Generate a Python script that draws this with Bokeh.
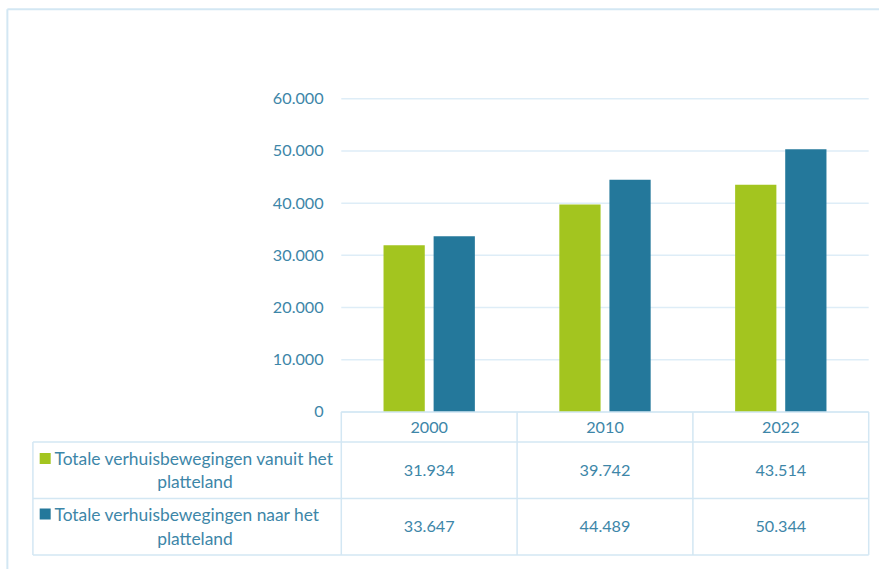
from bokeh.plotting import figure
from bokeh.models import Range1d
from bokeh.core.properties import value
from bokeh.embed import file_html
from bokeh.resources import INLINE

# ---------------- data ----------------
years = ["2000", "2010", "2022"]
vanuit = [31934, 39742, 43514]
naar = [33647, 44489, 50344]
series_names = [
    ("Totale verhuisbewegingen vanuit het", "platteland"),
    ("Totale verhuisbewegingen naar het", "platteland"),
]
y_ticks = [0, 10000, 20000, 30000, 40000, 50000, 60000]
y_tick_labels = ["0", "10.000", "20.000", "30.000", "40.000", "50.000", "60.000"]


def fmt(v):
    return f"{v:,}".replace(",", ".")


# ---------------- style / layout ----------------
GREEN = "#a3c51f"
BLUE = "#24789b"
TEXT = "#3d86a8"
GRID = "#deedf7"
BORDER = "#d3e7f3"
FONT = "Lato"
FS_NUM = "16.2px"
FS_TXT = "17.4px"

W, H = 879, 569
SX, SY = W / 895.0, H / 585.0       # layout designed on a 895x585 grid
CAT_W = 179.0 * SX                  # px per category
X0 = 436.5 * SX                     # px of first category centre
Y0 = 423.0 * SY                     # px of value 0
PPU = 322.0 * SY / 60000            # px per unit


def xl(ref_px):
    return (ref_px * SX - X0) / CAT_W


def yl(ref_py):
    return (Y0 - ref_py * SY) / PPU


p = figure(
    width=W, height=H,
    x_range=Range1d(-X0 / CAT_W, (W - X0) / CAT_W),
    y_range=Range1d(-(H - Y0) / PPU, Y0 / PPU),
    output_backend="svg", toolbar_location=None, min_border=0,
)
p.xaxis.visible = False
p.yaxis.visible = False
p.grid.visible = False
p.outline_line_color = None
p.background_fill_color = "white"
p.border_fill_color = "white"

# outer frame (left + top)
p.segment(x0=[xl(7)], x1=[xl(7)], y0=[yl(9)], y1=[yl(620)], line_color=BORDER, line_width=2)
p.segment(x0=[xl(7)], x1=[xl(920)], y0=[yl(9)], y1=[yl(9)], line_color=BORDER, line_width=2)

# gridlines
gx0, gx1 = -0.5, len(years) - 0.5
p.segment(x0=[gx0] * len(y_ticks), x1=[gx1] * len(y_ticks), y0=y_ticks, y1=y_ticks,
          line_color=GRID, line_width=1.5)

# y tick labels
p.text(x=[xl(329)] * len(y_ticks), y=y_ticks, text=y_tick_labels,
       text_align="right", text_baseline="middle", text_color=TEXT,
       text_font=value(FONT), text_font_size=FS_NUM)

# bars
idx = list(range(len(years)))
bw = 42.0 / 179.0
off = 25.5 / 179.0
p.vbar(x=[i - off for i in idx], top=vanuit, bottom=0, width=bw, fill_color=GREEN, line_color=None)
p.vbar(x=[i + off for i in idx], top=naar, bottom=0, width=bw, fill_color=BLUE, line_color=None)

# ---------------- data table ----------------
row_tops = [423, 454, 512, 570]
left_edge = xl(33)
p.segment(x0=[gx0], x1=[gx1], y0=[yl(row_tops[0])], y1=[yl(row_tops[0])], line_color=BORDER, line_width=1.5)
p.segment(x0=[left_edge] * 3, x1=[gx1] * 3, y0=[yl(r) for r in row_tops[1:]],
          y1=[yl(r) for r in row_tops[1:]], line_color=BORDER, line_width=1.5)
vx = [i - 0.5 for i in range(len(years) + 1)]
p.segment(x0=vx, x1=vx, y0=[yl(row_tops[0])] * len(vx), y1=[yl(row_tops[-1])] * len(vx),
          line_color=BORDER, line_width=1.5)
p.segment(x0=[left_edge], x1=[left_edge], y0=[yl(row_tops[1])], y1=[yl(row_tops[-1])],
          line_color=BORDER, line_width=1.5)

# header
p.text(x=idx, y=[yl(439)] * len(years), text=years, text_align="center", text_baseline="middle",
       text_color=TEXT, text_font=value(FONT), text_font_size=FS_NUM)
# values
p.text(x=idx, y=[yl(483)] * len(years), text=[fmt(v) for v in vanuit], text_align="center",
       text_baseline="middle", text_color=TEXT, text_font=value(FONT), text_font_size=FS_NUM)
p.text(x=idx, y=[yl(541)] * len(years), text=[fmt(v) for v in naar], text_align="center",
       text_baseline="middle", text_color=TEXT, text_font=value(FONT), text_font_size=FS_NUM)

# legend cells
line1_y = [471, 528]
line2_y = [495, 553]
colors = [GREEN, BLUE]
for k in range(2):
    p.scatter(x=[xl(45.5)], y=[yl(line1_y[k])], marker="square", size=11,
              fill_color=colors[k], line_color=None)
    p.text(x=[xl(55)], y=[yl(line1_y[k])], text=[series_names[k][0]], text_align="left",
           text_baseline="middle", text_color=TEXT, text_font=value(FONT), text_font_size=FS_TXT)
    p.text(x=[xl(198)], y=[yl(line2_y[k])], text=[series_names[k][1]], text_align="center",
           text_baseline="middle", text_color=TEXT, text_font=value(FONT), text_font_size=FS_TXT)

open("out.html", "w").write(file_html(p, INLINE))
